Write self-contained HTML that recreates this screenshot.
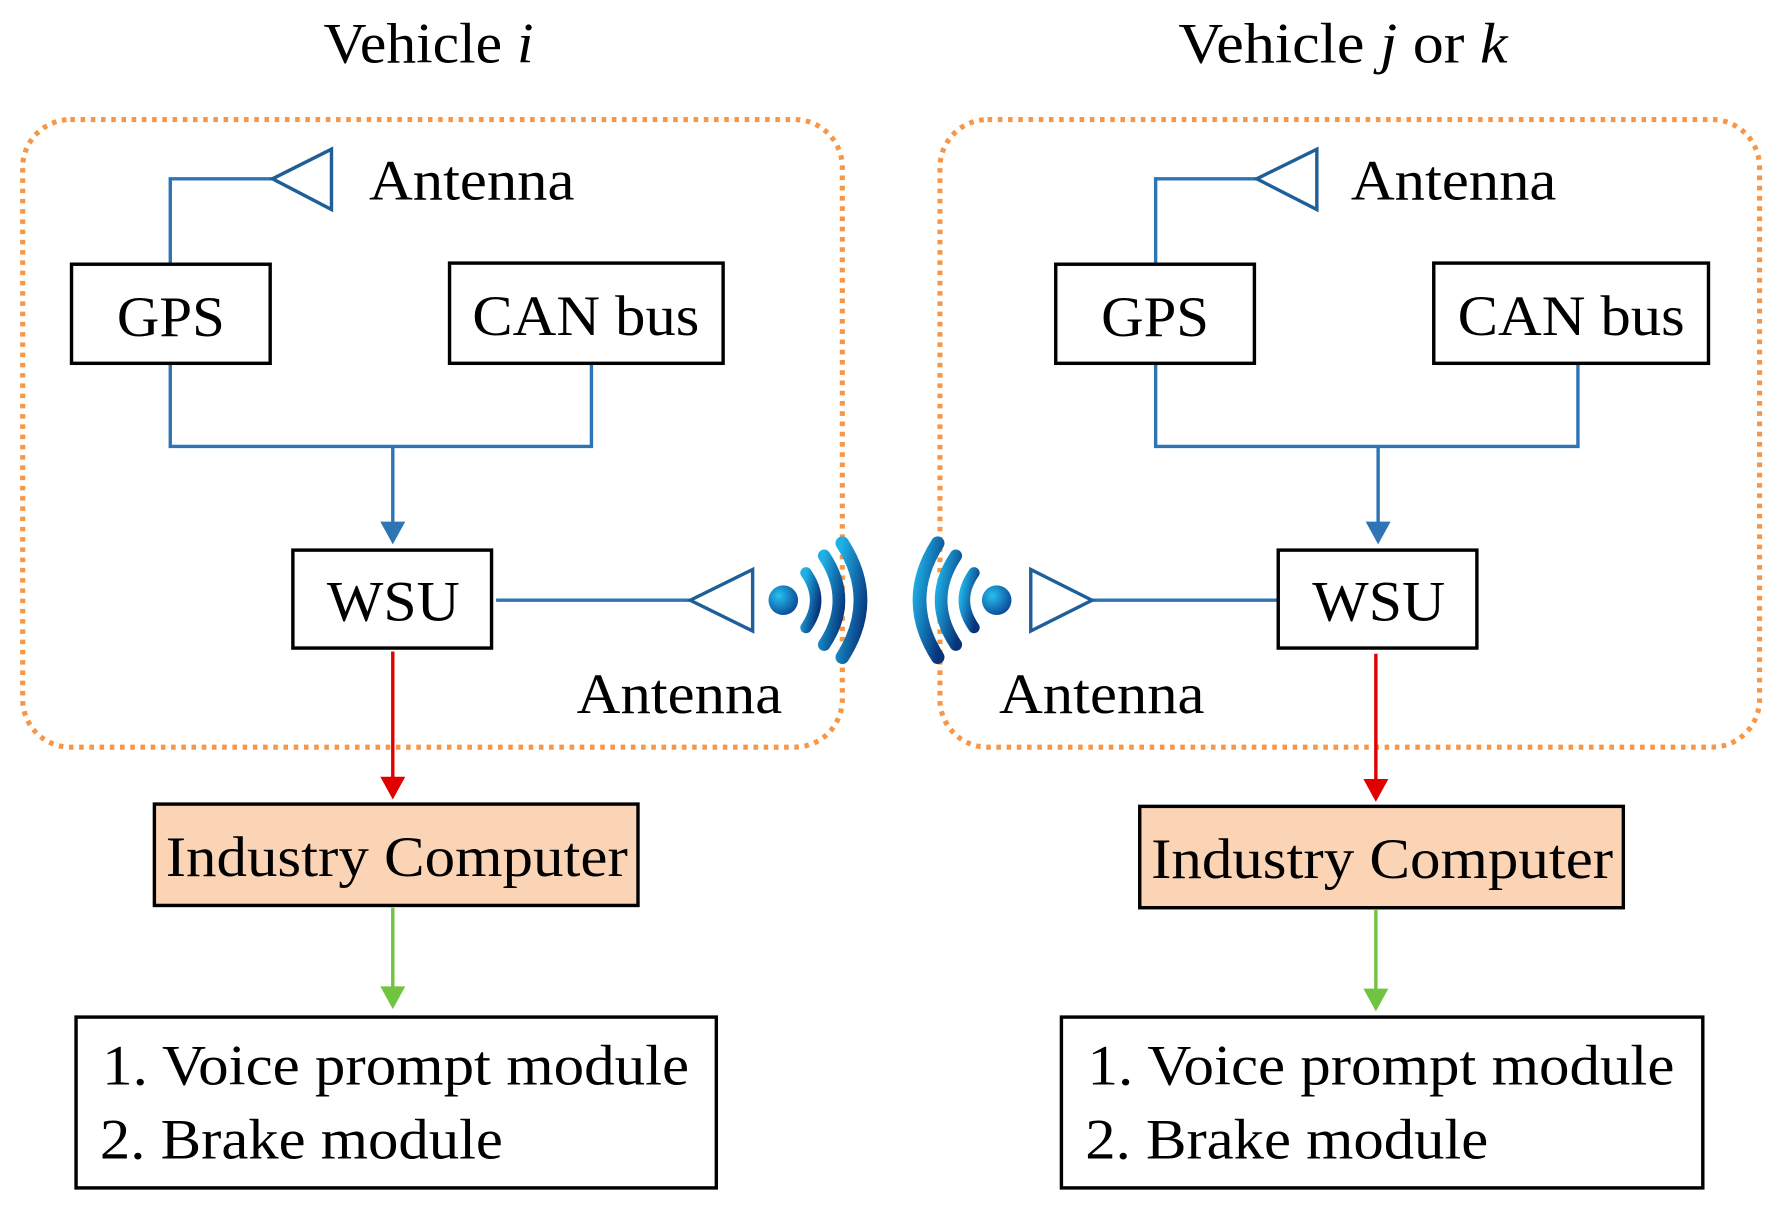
<!DOCTYPE html>
<html><head><meta charset="utf-8"><style>
html,body{margin:0;padding:0;background:#fff;}
svg{display:block;}
text{font-family:"Liberation Serif",serif;fill:#000;}
</style></head><body>
<svg width="1780" height="1205" viewBox="0 0 1568 1058" preserveAspectRatio="none" xmlns="http://www.w3.org/2000/svg">
<defs>
<linearGradient id="wg" x1="0" y1="0" x2="1" y2="1"><stop offset="0" stop-color="#1fb0e6"/><stop offset="1" stop-color="#07337a"/></linearGradient>
<radialGradient id="dg" cx="0.35" cy="0.35" r="0.7"><stop offset="0" stop-color="#28c0f0"/><stop offset="1" stop-color="#0a4a96"/></radialGradient>
</defs>

<text x="285" y="55" font-size="50" textLength="185" lengthAdjust="spacingAndGlyphs">Vehicle <tspan font-style="italic">i</tspan></text>
<text x="1038" y="55" font-size="50" textLength="290" lengthAdjust="spacingAndGlyphs">Vehicle <tspan font-style="italic">j</tspan> or <tspan font-style="italic">k</tspan></text>

<rect x="20" y="105" width="722" height="551" rx="42" fill="none" stroke="#f79646" stroke-width="4.5" stroke-dasharray="4 5"/>
<rect x="828" y="105" width="722" height="551" rx="42" fill="none" stroke="#f79646" stroke-width="4.5" stroke-dasharray="4 5"/>

<g fill="none" stroke="#2e75b6" stroke-width="3">
<polyline points="150,232 150,157 240,157"/>
<polygon points="240,157 292,131 292,184" stroke="#1f5f99"/>
<polyline points="150,319 150,392 521,392 521,319"/>
<line x1="346" y1="392" x2="346" y2="462"/>
<line x1="437" y1="527" x2="608" y2="527"/>
<polygon points="608,527 663,500 663,554" stroke="#1f5f99"/>
<polyline points="1018,232 1018,157 1107,157"/>
<polygon points="1107,157 1160,131 1160,184" stroke="#1f5f99"/>
<polyline points="1018,319 1018,392 1390,392 1390,319"/>
<line x1="1214" y1="392" x2="1214" y2="462"/>
<line x1="962" y1="527" x2="1126" y2="527"/>
<polygon points="962,527 908,500 908,554" stroke="#1f5f99"/>
</g>
<g fill="#2e75b6">
<polygon points="335,458 357,458 346,478"/>
<polygon points="1203,458 1225,458 1214,478"/>
</g>

<g stroke="#e00000" stroke-width="3" fill="#e00000">
<line x1="346" y1="572" x2="346" y2="684"/><polygon points="335,682 357,682 346,702" stroke="none"/>
<line x1="1212" y1="574" x2="1212" y2="686"/><polygon points="1201,684 1223,684 1212,704" stroke="none"/>
</g>
<g stroke="#70c440" stroke-width="3" fill="#70c440">
<line x1="346" y1="797" x2="346" y2="870"/><polygon points="335,866 357,866 346,886" stroke="none"/>
<line x1="1212" y1="799" x2="1212" y2="872"/><polygon points="1201,868 1223,868 1212,888" stroke="none"/>
</g>

<g stroke="#000" stroke-width="3" fill="#fff">
<rect x="63" y="232" width="175" height="87"/>
<rect x="396" y="231" width="241" height="88"/>
<rect x="258" y="483" width="175" height="86"/>
<rect x="136" y="706" width="426" height="89" fill="#fbd3b5"/>
<rect x="67" y="893" width="564" height="150"/>
<rect x="930" y="232" width="175" height="87"/>
<rect x="1263" y="231" width="242" height="88"/>
<rect x="1126" y="483" width="175" height="86"/>
<rect x="1004" y="708" width="426" height="89" fill="#fbd3b5"/>
<rect x="935" y="893" width="565" height="150"/>
</g>

<g fill="none" stroke="url(#wg)" stroke-linecap="round">
<circle cx="690" cy="527" r="13" fill="url(#dg)" stroke="none"/>
<path d="M710,503 Q727,527 710,551" stroke-width="10"/>
<path d="M726,488 Q752,527 726,566" stroke-width="11"/>
<path d="M742,477 Q774,527 742,577" stroke-width="12"/>
<circle cx="878" cy="527" r="13" fill="url(#dg)" stroke="none"/>
<path d="M858,503 Q841,527 858,551" stroke-width="10"/>
<path d="M842,488 Q816,527 842,566" stroke-width="11"/>
<path d="M826,477 Q794,527 826,577" stroke-width="12"/>
</g>

<g font-size="50">
<text x="325" y="175" textLength="181" lengthAdjust="spacingAndGlyphs">Antenna</text>
<text x="508" y="626" textLength="181" lengthAdjust="spacingAndGlyphs">Antenna</text>
<text x="1190" y="175" textLength="181" lengthAdjust="spacingAndGlyphs">Antenna</text>
<text x="880" y="626" textLength="181" lengthAdjust="spacingAndGlyphs">Antenna</text>
<text x="103" y="295" textLength="95" lengthAdjust="spacingAndGlyphs">GPS</text>
<text x="416" y="294" textLength="200" lengthAdjust="spacingAndGlyphs">CAN bus</text>
<text x="288" y="545" textLength="117" lengthAdjust="spacingAndGlyphs">WSU</text>
<text x="146" y="769" textLength="407" lengthAdjust="spacingAndGlyphs">Industry Computer</text>
<text x="90" y="952" textLength="517" lengthAdjust="spacingAndGlyphs">1. Voice prompt module</text>
<text x="88" y="1017" textLength="355" lengthAdjust="spacingAndGlyphs">2. Brake module</text>
<text x="970" y="295" textLength="95" lengthAdjust="spacingAndGlyphs">GPS</text>
<text x="1284" y="294" textLength="200" lengthAdjust="spacingAndGlyphs">CAN bus</text>
<text x="1156" y="545" textLength="117" lengthAdjust="spacingAndGlyphs">WSU</text>
<text x="1014" y="771" textLength="407" lengthAdjust="spacingAndGlyphs">Industry Computer</text>
<text x="958" y="952" textLength="517" lengthAdjust="spacingAndGlyphs">1. Voice prompt module</text>
<text x="956" y="1017" textLength="355" lengthAdjust="spacingAndGlyphs">2. Brake module</text>
</g>
</svg>
</body></html>
